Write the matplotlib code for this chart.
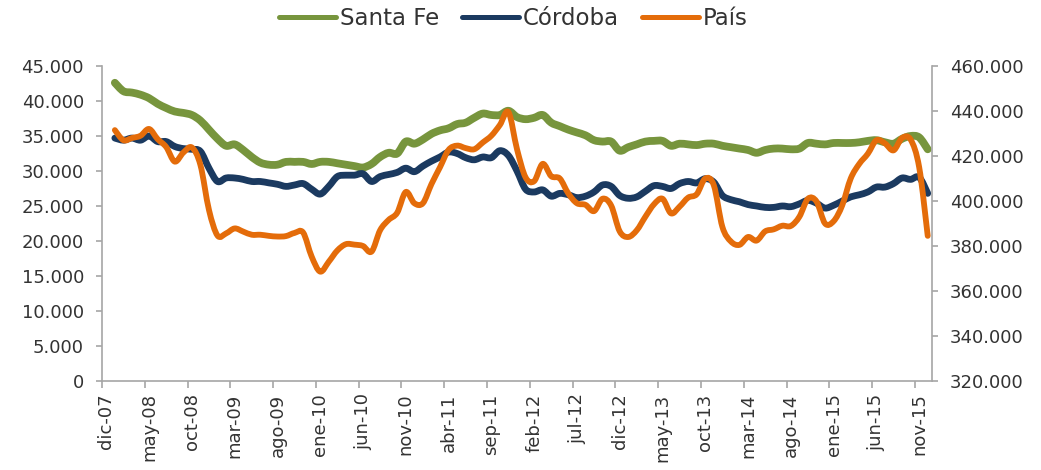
import matplotlib
matplotlib.use('Agg')
import matplotlib.pyplot as plt
import numpy as np
from matplotlib.ticker import FuncFormatter
from matplotlib.lines import Line2D
from matplotlib.path import Path
from matplotlib.patches import PathPatch

# ---- data ----
month_abbr = ['ene', 'feb', 'mar', 'abr', 'may', 'jun', 'jul', 'ago', 'sep', 'oct', 'nov', 'dic']
categories = ['dic-07'] + [f"{m}-{y:02d}" for y in range(8, 16) for m in month_abbr]

# values from ene-08 to dic-15 (thousands)
santa_fe = [42.6, 41.4, 41.2, 40.9, 40.4, 39.6, 39.0, 38.5, 38.3, 38.0,
            37.2, 35.9, 34.6, 33.6, 33.8, 33.0, 32.0, 31.2, 30.9, 30.9,
            31.3, 31.3, 31.3, 31.0, 31.3, 31.3, 31.1, 30.9, 30.7, 30.5,
            31.0, 32.0, 32.6, 32.5, 34.2, 33.9, 34.5, 35.3, 35.8, 36.1,
            36.7, 36.9, 37.6, 38.2, 38.0, 38.0, 38.6, 37.7, 37.4, 37.6,
            38.0, 36.9, 36.4, 35.9, 35.5, 35.1, 34.4, 34.2, 34.2, 32.9,
            33.4, 33.8, 34.2, 34.3, 34.3, 33.6, 33.9, 33.8, 33.7, 33.9,
            33.9, 33.6, 33.4, 33.2, 33.0, 32.6, 33.0, 33.2, 33.2, 33.1,
            33.2, 34.0, 33.9, 33.8, 34.0, 34.0, 34.0, 34.1, 34.3, 34.4,
            34.1, 33.9, 34.6, 35.0, 34.8, 33.1]

cordoba = [34.7, 34.4, 34.7, 34.4, 35.0, 34.2, 34.2, 33.5, 33.2, 33.1,
           32.8, 30.4, 28.5, 29.0, 29.0, 28.8, 28.5, 28.5, 28.3, 28.1,
           27.8, 28.0, 28.2, 27.4, 26.7, 27.8, 29.2, 29.4, 29.4, 29.6,
           28.5, 29.2, 29.5, 29.8, 30.4, 29.9, 30.7, 31.4, 32.0, 32.7,
           32.5, 31.9, 31.6, 32.0, 31.9, 32.9, 32.2, 30.0, 27.4, 27.0,
           27.3, 26.4, 26.8, 26.6, 26.2, 26.4, 27.0, 28.0, 27.8, 26.5,
           26.1, 26.3, 27.1, 27.9, 27.8, 27.5, 28.2, 28.5, 28.3, 28.9,
           28.4, 26.5, 25.9, 25.6, 25.2, 25.0, 24.8, 24.8, 25.0, 24.9,
           25.3, 25.8, 25.4, 24.7, 25.1, 25.7, 26.3, 26.6, 27.0, 27.7,
           27.7, 28.2, 29.0, 28.8, 29.1, 26.8]

pais = [431.5, 427.0, 428.0, 429.0, 432.0, 427.5, 424.0, 417.5, 421.5, 423.8,
        416.0, 396.0, 384.6, 385.6, 387.8, 386.4, 385.0, 385.0, 384.5, 384.2,
        384.4, 385.8, 386.0, 375.3, 368.6, 373.0, 378.0, 380.8, 380.6, 380.0,
        377.5, 387.0, 391.6, 394.8, 404.0, 399.0, 399.0, 407.5, 415.0, 422.7,
        424.6, 423.5, 423.0, 426.0, 429.0, 433.8, 439.5, 423.0, 410.5, 408.8,
        416.5, 411.0, 410.0, 403.3, 399.0, 398.3, 395.5, 401.0, 398.0, 386.5,
        384.0, 387.0, 393.0, 398.5, 401.0, 394.5, 397.5, 401.5, 403.0, 410.0,
        407.0, 388.5, 382.0, 380.5, 384.0, 382.4, 386.5, 387.4, 389.0, 388.9,
        393.0, 401.0, 399.8, 390.0, 391.0, 398.0, 410.0, 416.5, 421.0, 427.0,
        425.6, 422.5, 428.0, 427.3, 415.0, 384.5]

series_names = ['Santa Fe', 'Córdoba', 'País']

# ---- style ----
GREEN = '#77953D'
NAVY = '#1B3A60'
ORANGE = '#E46C0A'
GRAY = '#A6A6A6'
TXT = '#333333'


def smooth_line(axis, xs, ys, color, lw):
    """Draw an Excel-like smoothed line (Catmull-Rom as cubic Bezier) through the data."""
    pts = np.column_stack([xs, ys]).astype(float)
    ext = np.vstack([pts[0], pts, pts[-1]])
    verts = [tuple(pts[0])]
    codes = [Path.MOVETO]
    for i in range(len(pts) - 1):
        p0, p1, p2, p3 = ext[i], ext[i + 1], ext[i + 2], ext[i + 3]
        c1 = p1 + (p2 - p0) / 6.0
        c2 = p2 - (p3 - p1) / 6.0
        verts += [tuple(c1), tuple(c2), tuple(p2)]
        codes += [Path.CURVE4] * 3
    patch = PathPatch(Path(verts, codes), facecolor='none', edgecolor=color, lw=lw,
                      capstyle='round', joinstyle='round', transform=axis.transData)
    axis.add_patch(patch)


fig = plt.figure(figsize=(10.41, 4.70), dpi=100)
ax = fig.add_axes([0.098, 0.1894, 0.7973, 0.6702])
ax2 = ax.twinx()

x = np.arange(1, len(categories))
smooth_line(ax, x, np.array(santa_fe) * 1000, GREEN, 5.6)
smooth_line(ax, x, np.array(cordoba) * 1000, NAVY, 4.9)
smooth_line(ax2, x, np.array(pais) * 1000, ORANGE, 4.2)

ax.set_xlim(-0.5, len(categories) - 0.5)
ax.set_ylim(0, 45000)
ax2.set_ylim(320000, 460000)
ax.set_yticks(np.arange(0, 45001, 5000))
ax2.set_yticks(np.arange(320000, 460001, 20000))

fmt = FuncFormatter(lambda v, p: f"{int(round(v)):,}".replace(',', '.'))
ax.yaxis.set_major_formatter(fmt)
ax2.yaxis.set_major_formatter(fmt)

ax.set_xticks(np.arange(0, len(categories), 5))
ax.set_xticklabels(categories[::5], rotation=90, va='top', ha='center')
ax.set_xticks(np.arange(-0.5, len(categories), 5), minor=True)

for s in ['top', 'right']:
    ax.spines[s].set_visible(False)
for s in ['top', 'left', 'bottom']:
    ax2.spines[s].set_visible(False)
for s in ['left', 'bottom']:
    ax.spines[s].set_color(GRAY)
    ax.spines[s].set_linewidth(1.2)
ax2.spines['right'].set_color(GRAY)
ax2.spines['right'].set_linewidth(1.2)

ax.tick_params(axis='y', direction='out', length=4, width=1.2, color=GRAY,
               labelsize=13, labelcolor=TXT, pad=9)
ax2.tick_params(axis='y', direction='out', length=4, width=1.2, color=GRAY,
                labelsize=13, labelcolor=TXT, pad=9)
ax.tick_params(axis='x', which='major', length=0, labelsize=13, labelcolor=TXT, pad=9)
ax.tick_params(axis='x', which='minor', direction='out', length=5, width=1.2, color=GRAY)

handles = [Line2D([], [], color=c, lw=3.6, solid_capstyle='round')
           for c in (GREEN, NAVY, ORANGE)]
fig.legend(handles, series_names, loc='center', bbox_to_anchor=(0.493, 0.96),
           ncol=3, frameon=False, fontsize=16.5, handlelength=2.5,
           handletextpad=0.15, columnspacing=1.0, labelcolor=TXT)

fig.savefig('out.png', dpi=100)
